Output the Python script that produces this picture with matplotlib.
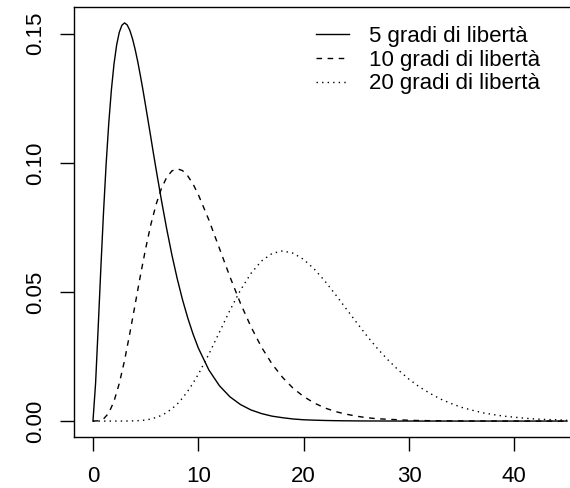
import matplotlib
matplotlib.use("Agg")
import matplotlib.pyplot as plt

plt.rcParams['font.family'] = ['Liberation Sans', 'DejaVu Sans']

# ---------------------------------------------------------------------------- #
#                                     Data                                     #
# ---------------------------------------------------------------------------- #
# 5 df curve needs a finer grid round its sharp peak
x_5 = [0, 0.25, 0.5, 0.75, 1, 1.25, 1.5, 1.75, 2, 2.25, 2.5, 2.75, 3, 3.25, 3.5, 3.75,
       4, 4.25, 4.5, 4.75, 5, 5.25, 5.5, 5.75, 6, 6.5, 7, 7.5, 8, 8.5, 9, 9.5, 10,
       11, 12, 13, 14, 15, 16, 17, 18, 19, 20, 21, 22, 23, 24, 25, 26, 27, 28,
       29, 30, 31, 32, 33, 34, 35, 36, 37, 38, 39, 40, 41, 42, 43, 44, 45]
dens_5 = [0, 0.0147, 0.0366, 0.0594, 0.0807, 0.0995, 0.1154, 0.1283, 0.1384, 0.1457,
          0.1506, 0.1533, 0.1542, 0.1534, 0.1513, 0.1481, 0.1440, 0.1392, 0.1338, 0.1281,
          0.1220, 0.1159, 0.1097, 0.1034, 0.0973, 0.0855, 0.0744, 0.0642, 0.0551, 0.0470,
          0.0399, 0.0337, 0.0283,
          0.0198, 0.0137, 0.0094, 0.0064, 0.0043, 0.0029, 0.0019, 0.0013, 0.0008, 0.0005,
          0.00035, 0.00023, 0.00015, 0.0001, 0.00006, 0.00004, 0.00003, 0.00002, 0.00001,
          0.00001, 0, 0, 0, 0, 0, 0, 0, 0, 0, 0, 0, 0, 0, 0, 0]

# 10 and 20 df: 0..10 every 0.5, then every 1 up to 45
x_vals = [0, 0.5, 1, 1.5, 2, 2.5, 3, 3.5, 4, 4.5, 5, 5.5, 6, 6.5, 7, 7.5, 8, 8.5, 9, 9.5, 10,
          11, 12, 13, 14, 15, 16, 17, 18, 19, 20, 21, 22, 23, 24, 25, 26, 27, 28,
          29, 30, 31, 32, 33, 34, 35, 36, 37, 38, 39, 40, 41, 42, 43, 44, 45]

dens_10 = [0, 0.0001, 0.0008, 0.0031, 0.0077, 0.0146, 0.0235, 0.0340, 0.0451, 0.0563,
           0.0668, 0.0762, 0.0840, 0.0901, 0.0944, 0.0969, 0.0977, 0.0970, 0.0949, 0.0918,
           0.0877,
           0.0779, 0.0669, 0.0559, 0.0456, 0.0365, 0.0286, 0.0221, 0.0169, 0.0127, 0.0095,
           0.0070, 0.0051, 0.0037, 0.0027, 0.0019, 0.0013, 0.0009, 0.0007, 0.0005, 0.0003,
           0.0002, 0.00015, 0.0001, 0.00007, 0.00005, 0.00003, 0.00002, 0.000015, 0.00001,
           0.000007, 0.000005, 0.000003, 0.000002, 0.000001, 0.000001]

dens_20 = [0, 0, 0, 0, 0, 0, 0.00001, 0.00004, 0.0001, 0.0002,
           0.0004, 0.0008, 0.0014, 0.0022, 0.0033, 0.0048, 0.0066, 0.0089, 0.0116, 0.0147,
           0.0181,
           0.0259, 0.0344, 0.0429, 0.0507, 0.0572, 0.0620, 0.0649, 0.0659, 0.0650, 0.0626,
           0.0589, 0.0543, 0.0491, 0.0437, 0.0383, 0.0330, 0.0281, 0.0237, 0.0197, 0.0162,
           0.0132, 0.0107, 0.0085, 0.0068, 0.0053, 0.0042, 0.0032, 0.0025, 0.0019, 0.0015,
           0.0011, 0.0008, 0.0006, 0.0005, 0.0003]

labels = ["5 gradi di libertà", "10 gradi di libertà", "20 gradi di libertà"]
x_ticks = [0, 10, 20, 30, 40]
y_ticks = [0.00, 0.05, 0.10, 0.15]
y_tick_labels = ["0.00", "0.05", "0.10", "0.15"]

# ---------------------------------------------------------------------------- #
#                                   Plotting                                   #
# ---------------------------------------------------------------------------- #
W, H = 570, 488
fig = plt.figure(figsize=(W / 100, H / 100), dpi=100)
# plot box runs past the right edge of the image, like the original
ax = fig.add_axes([74 / W, 51 / H, (586 - 74) / W, (437 - 7) / H])

lw = 1.0
ax.plot(x_5, dens_5, color='black', lw=lw, linestyle='-', label=labels[0])
ax.plot(x_vals, dens_10, color='black', lw=lw, linestyle=(0, (4, 4)), label=labels[1])
ax.plot(x_vals, dens_20, color='black', lw=lw, linestyle=(0, (1, 3)), label=labels[2])

ax.set_xlim(-1.8, 46.8)
ax.set_ylim(-0.00617, 0.16035)

ax.set_xticks(x_ticks)
ax.set_yticks(y_ticks)
ax.set_yticklabels(y_tick_labels, rotation=90, va='center')
ax.tick_params(axis='both', direction='out', length=10, width=1.0,
               labelsize=16, colors='black')
ax.tick_params(axis='x', pad=11)
ax.tick_params(axis='y', pad=10)

for s in ax.spines.values():
    s.set_linewidth(1.0)

ax.legend(loc='upper left', bbox_to_anchor=(316 / W, 1 - 26 / H),
          bbox_transform=fig.transFigure, frameon=False, fontsize=16,
          handlelength=1.5, handletextpad=0.9, labelspacing=0.12,
          borderpad=0, borderaxespad=0)

fig.savefig("out.png", dpi=100)
